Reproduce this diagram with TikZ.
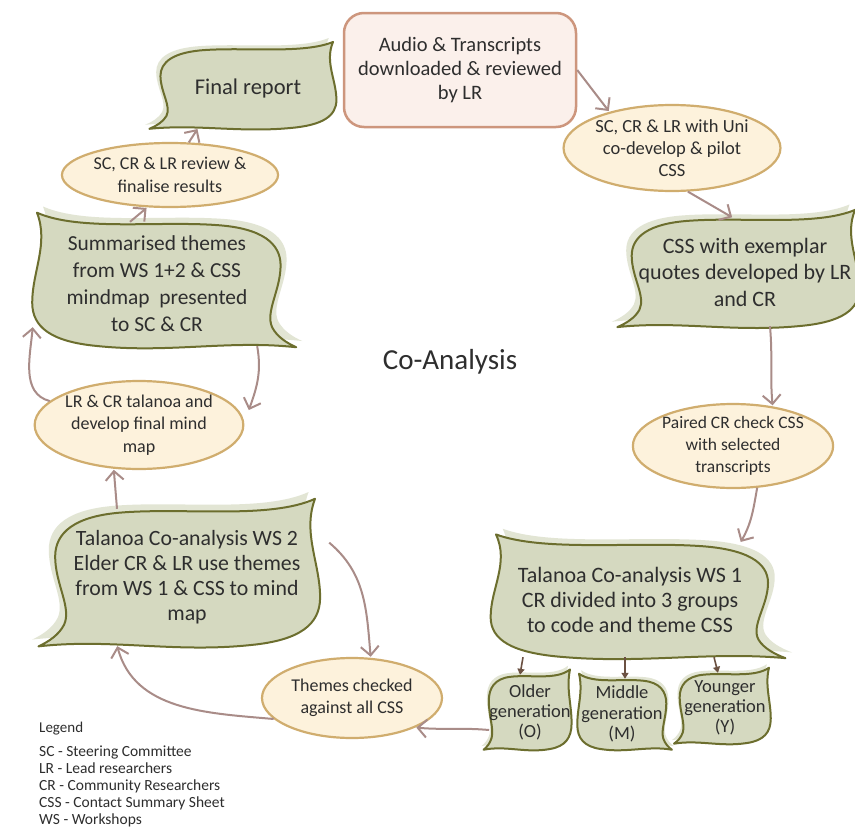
\documentclass[tikz,border=0pt]{standalone}
\usepackage{fontspec}
\setmainfont{Carlito}
\usetikzlibrary{shapes.geometric,arrows.meta}
\pgfdeclarelayer{background}
\pgfsetlayers{background,main}
\definecolor{textc}{HTML}{2E2E2E}
\definecolor{leaffill}{HTML}{D5D9C0}
\definecolor{leafshadow}{HTML}{E2E5D4}
\definecolor{leafline}{HTML}{6C6E2E}
\definecolor{ovalf}{HTML}{FDF2DC}
\definecolor{ovalb}{HTML}{D0AD6E}
\definecolor{audiof}{HTML}{FBF0EB}
\definecolor{audiob}{HTML}{CD967D}
\definecolor{arrc}{HTML}{A98C88}
\definecolor{sarrc}{HTML}{6B5142}
\newcommand\leafdraw[1]{\path[#1] (-1.0,-1.15) .. controls (-0.65,-0.85) and (0.0,-1.02) .. (0.5,-0.95) .. controls (0.88,-0.9) and (1.03,-0.65) .. (1.03,-0.3) .. controls (1.03,0.1) and (0.9,0.45) .. (0.96,0.7) .. controls (1.0,0.85) and (1.08,0.95) .. (1.16,1.02) .. controls (0.6,0.9) and (0.1,1.12) .. (-0.5,1.0) .. controls (-0.88,0.93) and (-1.04,0.7) .. (-1.04,0.3) .. controls (-1.04,-0.2) and (-0.9,-0.65) .. cycle;}
\newcommand\leaf[4]{%
  \begin{pgfonlayer}{background}
  \begin{scope}[shift={(#1.center)},xscale=#4,x=#2pt,y=-#3pt]
    \begin{scope}[shift={(0.05,-0.1)}]\leafdraw{fill=leafshadow}\end{scope}
    \leafdraw{fill=leaffill,draw=leafline,line width=2pt,line join=round}
  \end{scope}
  \end{pgfonlayer}}
\tikzset{
  txt/.style={align=center,text=textc,inner sep=0pt},
  oval/.style={ellipse,draw=ovalb,fill=ovalf,line width=2.2pt,align=center,inner sep=0pt,text=textc},
  arr/.style={draw=arrc,line width=2pt,-{Straight Barb[length=9pt,width=18pt]},shorten >=1pt},
  sarr/.style={draw=sarrc,line width=1.6pt,-{Triangle[length=6pt,width=7pt]}},
}
\begin{document}
\begin{tikzpicture}[x=1pt,y=-1pt]
\begin{pgfonlayer}{background}
\fill[white] (0,0) rectangle (855,830);
\end{pgfonlayer}
\useasboundingbox (0,0) rectangle (855,830);

% nodes
\node[draw=audiob,fill=audiof,line width=2.5pt,rounded corners=20pt,minimum width=232pt,minimum height=114pt,align=center,text=textc,font=\fontsize{20.5}{24}\selectfont] (audio) at (460,70) {Audio \& Transcripts\\downloaded \& reviewed\\by LR};
\node[oval,minimum width=182pt,minimum height=86pt,font=\fontsize{18.5}{22}\selectfont] (sc1) at (672,148) {SC, CR \& LR with Uni\\co-develop \& pilot\\CSS};
\node[txt,minimum width=220pt,minimum height=108pt,font=\fontsize{22}{26.5}\selectfont] (css) at (745,272) {CSS with exemplar\\quotes developed by LR\\and CR};
\node[oval,minimum width=180pt,minimum height=84pt,font=\fontsize{17.5}{22}\selectfont] (paired) at (733,446) {Paired CR check CSS\\with selected\\transcripts};
\node[txt,minimum width=268pt,minimum height=114pt,font=\fontsize{22}{25}\selectfont] (ws1) at (630,600) {Talanoa Co-analysis WS 1\\CR divided into 3 groups\\to code and theme CSS};
\node[txt,minimum width=80pt,minimum height=74pt,font=\fontsize{18.5}{20}\selectfont] (old) at (530,712) {Older\\generation\\(O)};
\node[txt,minimum width=86pt,minimum height=70pt,font=\fontsize{18.5}{20.5}\selectfont] (mid) at (622,714) {Middle\\generation\\(M)};
\node[txt,minimum width=88pt,minimum height=70pt,font=\fontsize{18.5}{20}\selectfont] (you) at (725,708) {Younger\\generation\\(Y)};
\node[oval,minimum width=180pt,minimum height=80pt,font=\fontsize{18}{22}\selectfont] (themes) at (352,698) {Themes checked\\against all CSS};
\node[txt,minimum width=256pt,minimum height=136pt,font=\fontsize{21.8}{25}\selectfont] (ws2) at (187,577) {Talanoa Co-analysis WS 2\\Elder CR \& LR use themes\\from WS 1 \& CSS to mind\\map};
\node[oval,minimum width=196pt,minimum height=88pt,font=\fontsize{18}{22.5}\selectfont] (lrcr) at (139,425) {LR \& CR talanoa and\\develop final mind\\map};
\node[txt,minimum width=240pt,minimum height=124pt,font=\fontsize{21.4}{27}\selectfont] (sum) at (157,284) {Summarised themes\\from WS 1+2 \& CSS\\mindmap\ \ presented\\to SC \& CR};
\node[oval,minimum width=158pt,minimum height=64pt,font=\fontsize{18}{23}\selectfont] (review) at (170,175) {SC, CR \& LR review \&\\finalise results};
\node[txt,minimum width=170pt,minimum height=80pt,font=\fontsize{22.5}{25}\selectfont] (fin) at (248,88) {Final report};
\node[txt,font=\fontsize{29}{32}\selectfont] (title) at (450,362) {Co-Analysis};

% legend
\node[txt,anchor=west,font=\fontsize{15}{17}\selectfont] (leg) at (39,729) {Legend};
\node[txt,anchor=north west,align=left,font=\fontsize{15.5}{17}\selectfont] (legtxt) at (39,746) {SC - Steering Committee\\LR - Lead researchers\\CR - Community Researchers\\CSS - Contact Summary Sheet\\WS - Workshops};

% leaf shapes
\leaf{css}{110}{54}{-1}
\leaf{ws1}{134}{57}{1}
\leaf{old}{40}{37}{-1}
\leaf{mid}{43}{35}{1}
\leaf{you}{44}{35}{-1}
\leaf{ws2}{128}{68}{-1}
\leaf{sum}{120}{62}{1}
\leaf{fin}{85}{40}{-1}

% connectors
\draw[arr] (audio.east) -- (sc1.150);
\draw[arr] (sc1.-70) -- ([xshift=-12pt]css.north);
\draw[arr] ([xshift=25pt]css.south) to[out=-85,in=95] (paired.45);
\draw[arr] (paired.-60) to[out=-100,in=60] ([xshift=-24pt]ws1.north east);
\draw[sarr] ([xshift=-7pt]old.north |- ws1.south) -- ([xshift=-10pt]old.north);
\draw[sarr] ([xshift=3pt]mid.north |- ws1.south) -- ([xshift=3pt]mid.north);
\draw[sarr] ([xshift=-11pt]you.north |- ws1.south) -- ([xshift=-7pt]you.north);
\draw[arr] ([yshift=-18pt]old.west) to[out=175,in=-5] (themes.-25);
\draw[arr] (themes.195) to[out=175,in=-75] ([xshift=-70pt]ws2.south);
\draw[arr] ([xshift=14pt]ws2.15) to[out=-40,in=95] (themes.65);
\draw[arr] ([xshift=-70pt]ws2.north) -- (lrcr.240);
\draw[arr] ([xshift=-20pt]sum.south east) to[out=-80,in=70] ([shift={(4pt,14pt)}]lrcr.east);
\draw[arr] (lrcr.165) to[out=165,in=-95] ([shift={(-4pt,20pt)}]sum.south west);
\draw[arr] ([xshift=-27pt]sum.north) -- (review.235);
\draw[arr] (review.60) -- ([xshift=-50pt]fin.south);
\end{tikzpicture}
\end{document}
